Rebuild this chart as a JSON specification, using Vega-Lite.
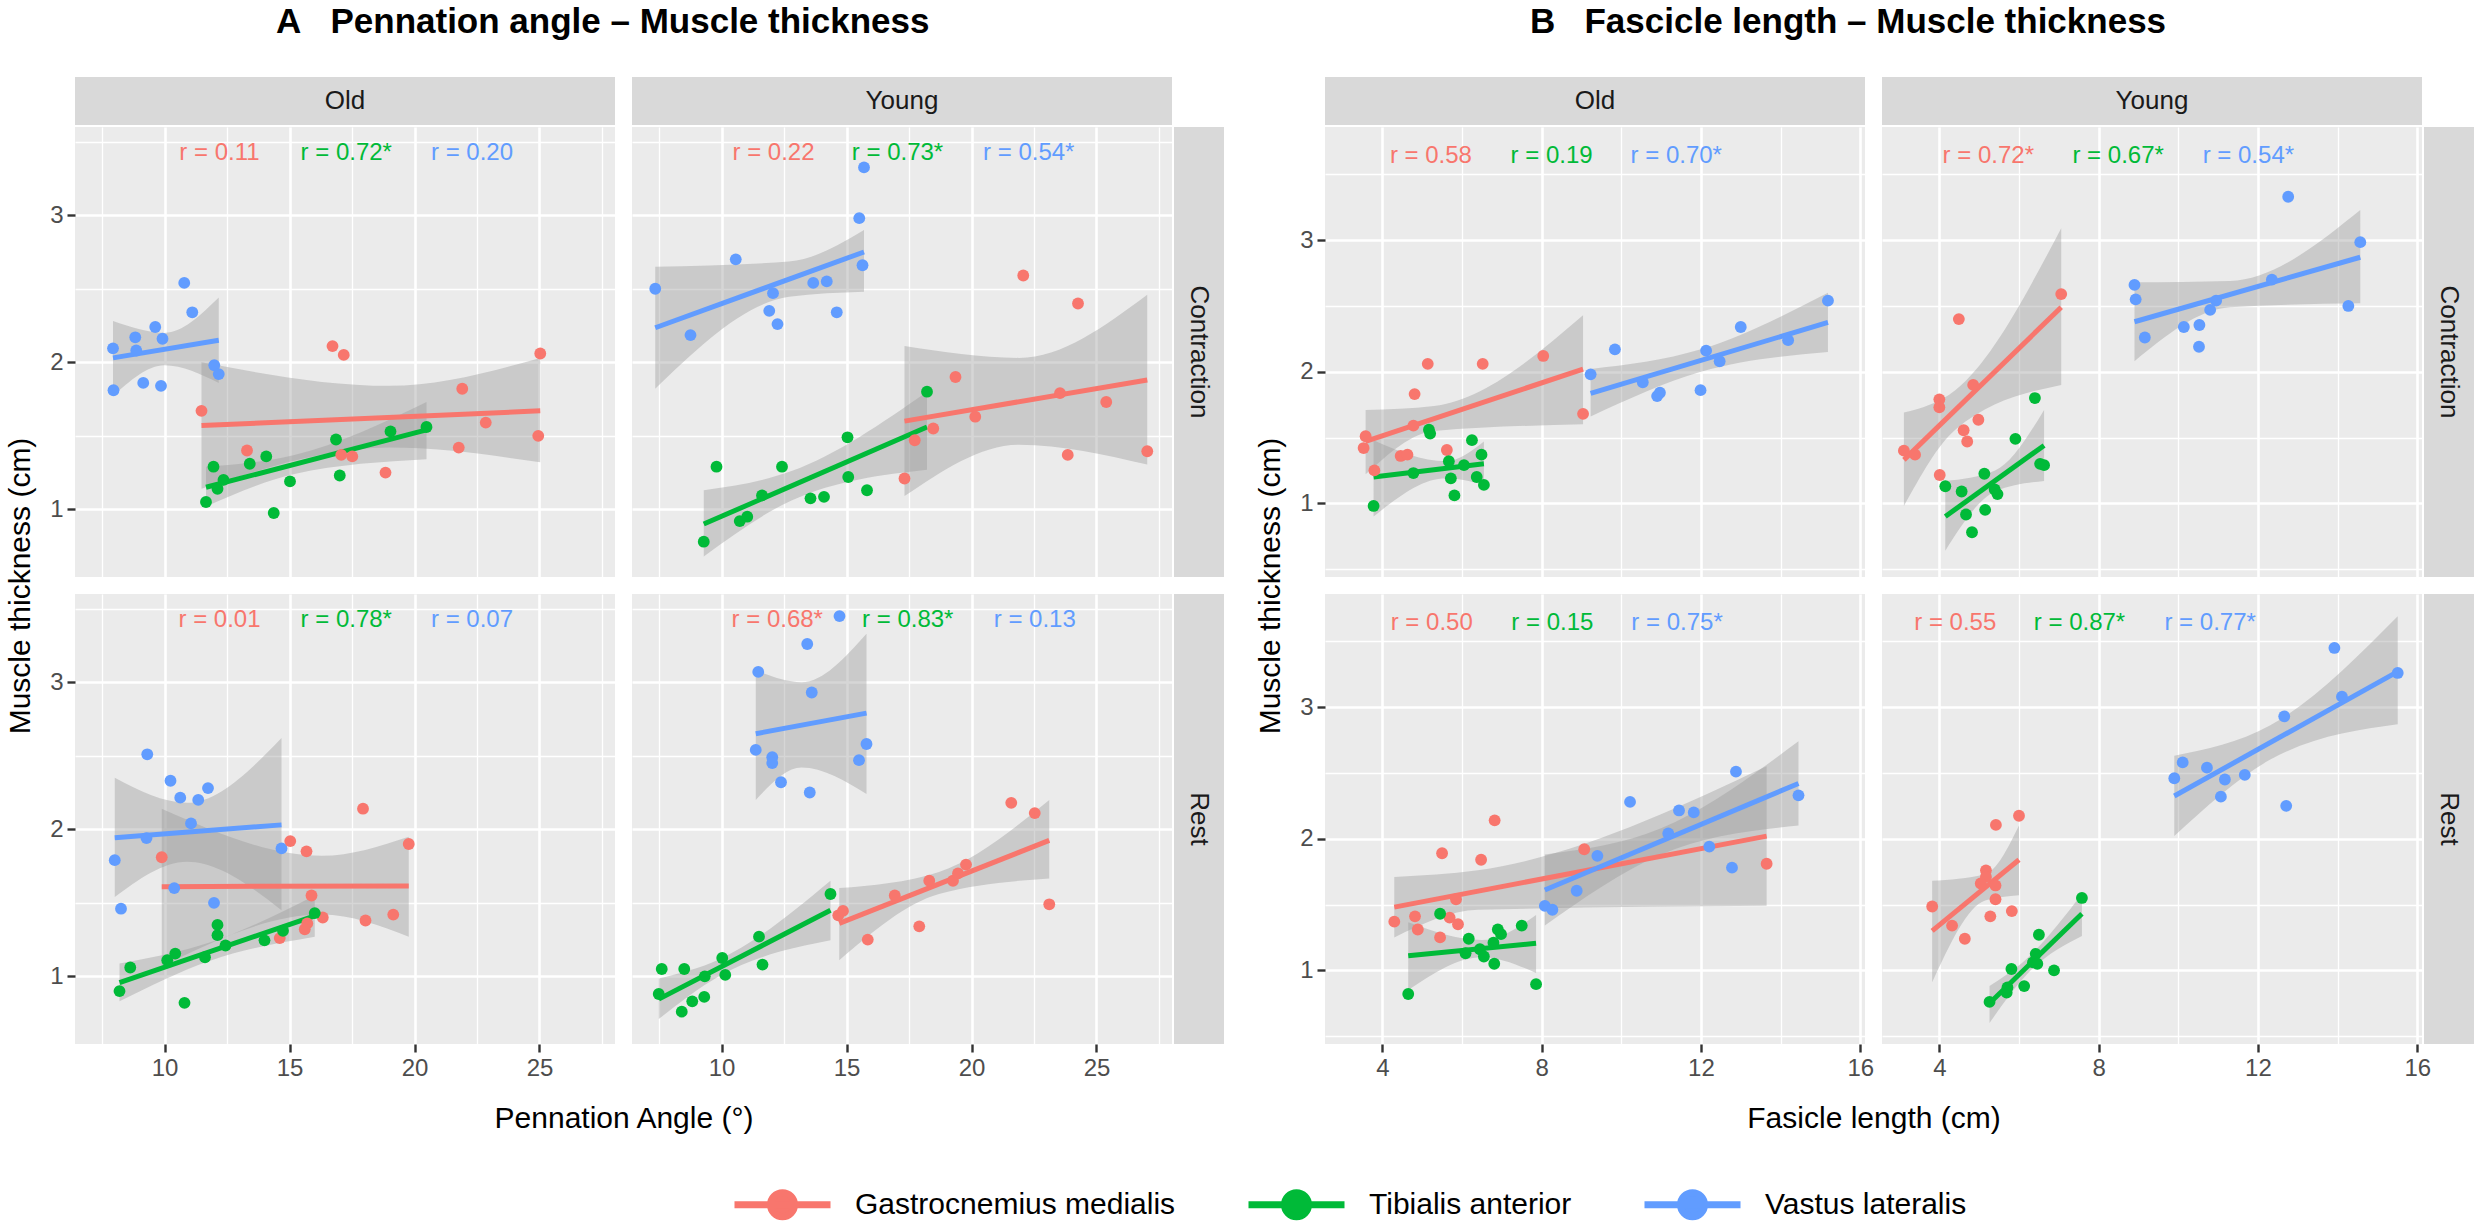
{
"$schema":"https://vega.github.io/schema/vega-lite/v6.json",
"background":"#FFFFFF",
"padding":{"left":5,"top":5,"right":5,"bottom":0},
"config":{"view":{"stroke":null},"font":"Liberation Sans",
"axis":{"domain":false,"grid":true,"gridColor":"#FFFFFF","tickSize":8,"tickWidth":2.4,"tickColor":"#333333","labelFontSize":24,"labelColor":"#4D4D4D","labelPadding":4,"titleFontSize":30,"titleFontWeight":"normal","titleColor":"#000000","titlePadding":14},
"title":{"font":"Liberation Sans"}},
"datasets":{"d":[
{"c":"AOC","k":"p","m":"G","x":11.48,"y":1.67},{"c":"AOC","k":"p","m":"G","x":13.3,"y":1.4},{"c":"AOC","k":"p","m":"G","x":16.72,"y":2.11},{"c":"AOC","k":"p","m":"G","x":17.17,"y":2.05},{"c":"AOC","k":"p","m":"G","x":17.07,"y":1.37},{"c":"AOC","k":"p","m":"G","x":17.51,"y":1.36},{"c":"AOC","k":"p","m":"G","x":18.84,"y":1.25},{"c":"AOC","k":"p","m":"G","x":21.91,"y":1.82},{"c":"AOC","k":"p","m":"G","x":22.85,"y":1.59},{"c":"AOC","k":"p","m":"G","x":21.77,"y":1.42},{"c":"AOC","k":"p","m":"G","x":25.03,"y":2.06},{"c":"AOC","k":"p","m":"G","x":24.95,"y":1.5},
{"c":"AOC","k":"p","m":"T","x":11.66,"y":1.05},{"c":"AOC","k":"p","m":"T","x":11.96,"y":1.29},{"c":"AOC","k":"p","m":"T","x":12.12,"y":1.14},{"c":"AOC","k":"p","m":"T","x":12.36,"y":1.2},{"c":"AOC","k":"p","m":"T","x":13.41,"y":1.31},{"c":"AOC","k":"p","m":"T","x":14.07,"y":1.36},{"c":"AOC","k":"p","m":"T","x":14.37,"y":0.975},{"c":"AOC","k":"p","m":"T","x":15.02,"y":1.19},{"c":"AOC","k":"p","m":"T","x":16.86,"y":1.475},{"c":"AOC","k":"p","m":"T","x":17.01,"y":1.23},{"c":"AOC","k":"p","m":"T","x":19.04,"y":1.53},{"c":"AOC","k":"p","m":"T","x":20.48,"y":1.56},
{"c":"AOC","k":"p","m":"V","x":7.94,"y":2.095},{"c":"AOC","k":"p","m":"V","x":8.83,"y":2.17},{"c":"AOC","k":"p","m":"V","x":8.87,"y":2.08},{"c":"AOC","k":"p","m":"V","x":9.63,"y":2.24},{"c":"AOC","k":"p","m":"V","x":9.92,"y":2.16},{"c":"AOC","k":"p","m":"V","x":10.79,"y":2.54},{"c":"AOC","k":"p","m":"V","x":11.11,"y":2.34},{"c":"AOC","k":"p","m":"V","x":11.99,"y":1.98},{"c":"AOC","k":"p","m":"V","x":12.17,"y":1.92},{"c":"AOC","k":"p","m":"V","x":7.96,"y":1.81},{"c":"AOC","k":"p","m":"V","x":9.15,"y":1.86},{"c":"AOC","k":"p","m":"V","x":9.86,"y":1.84},
{"c":"AOC","k":"l","m":"G","x":11.48,"y":1.57},{"c":"AOC","k":"l","m":"G","x":25.03,"y":1.67},{"c":"AOC","k":"l","m":"T","x":11.66,"y":1.15},{"c":"AOC","k":"l","m":"T","x":20.48,"y":1.54},{"c":"AOC","k":"l","m":"V","x":7.94,"y":2.03},{"c":"AOC","k":"l","m":"V","x":12.17,"y":2.15},
{"c":"AOC","k":"b","m":"V","x":7.94,"y":1.77,"y2":2.28},{"c":"AOC","k":"b","m":"V","x":10.0,"y":1.98,"y2":2.2},{"c":"AOC","k":"b","m":"V","x":12.17,"y":1.86,"y2":2.44},
{"c":"AOC","k":"b","m":"G","x":11.48,"y":1.14,"y2":2.0},{"c":"AOC","k":"b","m":"G","x":19.0,"y":1.42,"y2":1.84},{"c":"AOC","k":"b","m":"G","x":25.03,"y":1.32,"y2":2.03},
{"c":"AOC","k":"b","m":"T","x":11.66,"y":1.02,"y2":1.29},{"c":"AOC","k":"b","m":"T","x":15.2,"y":1.24,"y2":1.37},{"c":"AOC","k":"b","m":"T","x":20.48,"y":1.34,"y2":1.73},
{"c":"AOC","k":"t","m":"G","x":12.2,"y":3.42,"t":"r = 0.11"},{"c":"AOC","k":"t","m":"T","x":17.27,"y":3.42,"t":"r = 0.72*"},{"c":"AOC","k":"t","m":"V","x":22.3,"y":3.42,"t":"r = 0.20"},

{"c":"AYC","k":"p","m":"G","x":17.32,"y":1.21},{"c":"AYC","k":"p","m":"G","x":17.73,"y":1.47},{"c":"AYC","k":"p","m":"G","x":18.47,"y":1.55},{"c":"AYC","k":"p","m":"G","x":19.36,"y":1.9},{"c":"AYC","k":"p","m":"G","x":20.15,"y":1.63},{"c":"AYC","k":"p","m":"G","x":22.07,"y":2.59},{"c":"AYC","k":"p","m":"G","x":23.54,"y":1.79},{"c":"AYC","k":"p","m":"G","x":23.85,"y":1.37},{"c":"AYC","k":"p","m":"G","x":24.26,"y":2.4},{"c":"AYC","k":"p","m":"G","x":25.39,"y":1.73},{"c":"AYC","k":"p","m":"G","x":27.03,"y":1.395},
{"c":"AYC","k":"p","m":"T","x":9.29,"y":0.78},{"c":"AYC","k":"p","m":"T","x":9.8,"y":1.29},{"c":"AYC","k":"p","m":"T","x":10.73,"y":0.92},{"c":"AYC","k":"p","m":"T","x":11.03,"y":0.95},{"c":"AYC","k":"p","m":"T","x":11.62,"y":1.095},{"c":"AYC","k":"p","m":"T","x":12.42,"y":1.29},{"c":"AYC","k":"p","m":"T","x":13.56,"y":1.075},{"c":"AYC","k":"p","m":"T","x":14.1,"y":1.085},{"c":"AYC","k":"p","m":"T","x":15.04,"y":1.49},{"c":"AYC","k":"p","m":"T","x":15.07,"y":1.22},{"c":"AYC","k":"p","m":"T","x":15.82,"y":1.13},{"c":"AYC","k":"p","m":"T","x":18.22,"y":1.8},
{"c":"AYC","k":"p","m":"V","x":7.35,"y":2.5},{"c":"AYC","k":"p","m":"V","x":8.76,"y":2.185},{"c":"AYC","k":"p","m":"V","x":10.57,"y":2.7},{"c":"AYC","k":"p","m":"V","x":12.06,"y":2.47},{"c":"AYC","k":"p","m":"V","x":11.91,"y":2.35},{"c":"AYC","k":"p","m":"V","x":12.24,"y":2.26},{"c":"AYC","k":"p","m":"V","x":13.67,"y":2.54},{"c":"AYC","k":"p","m":"V","x":14.21,"y":2.55},{"c":"AYC","k":"p","m":"V","x":14.61,"y":2.34},{"c":"AYC","k":"p","m":"V","x":15.51,"y":2.98},{"c":"AYC","k":"p","m":"V","x":15.64,"y":2.66},{"c":"AYC","k":"p","m":"V","x":15.7,"y":3.325},
{"c":"AYC","k":"l","m":"V","x":7.35,"y":2.235},{"c":"AYC","k":"l","m":"V","x":15.7,"y":2.75},{"c":"AYC","k":"l","m":"T","x":9.29,"y":0.9},{"c":"AYC","k":"l","m":"T","x":18.22,"y":1.56},{"c":"AYC","k":"l","m":"G","x":17.32,"y":1.6},{"c":"AYC","k":"l","m":"G","x":27.03,"y":1.88},
{"c":"AYC","k":"b","m":"V","x":7.35,"y":1.82,"y2":2.65},{"c":"AYC","k":"b","m":"V","x":12.7,"y":2.445,"y2":2.685},{"c":"AYC","k":"b","m":"V","x":15.7,"y":2.48,"y2":2.9},
{"c":"AYC","k":"b","m":"T","x":9.29,"y":0.68,"y2":1.13},{"c":"AYC","k":"b","m":"T","x":12.8,"y":1.06,"y2":1.26},{"c":"AYC","k":"b","m":"T","x":18.22,"y":1.27,"y2":1.8},
{"c":"AYC","k":"b","m":"G","x":17.32,"y":1.09,"y2":2.11},{"c":"AYC","k":"b","m":"G","x":21.9,"y":1.44,"y2":2.03},{"c":"AYC","k":"b","m":"G","x":27.03,"y":1.305,"y2":2.46},
{"c":"AYC","k":"t","m":"G","x":12.08,"y":3.42,"t":"r = 0.22"},{"c":"AYC","k":"t","m":"T","x":17.04,"y":3.42,"t":"r = 0.73*"},{"c":"AYC","k":"t","m":"V","x":22.29,"y":3.42,"t":"r = 0.54*"},

{"c":"AOR","k":"p","m":"V","x":9.31,"y":2.51},{"c":"AOR","k":"p","m":"V","x":10.24,"y":2.33},{"c":"AOR","k":"p","m":"V","x":10.63,"y":2.215},{"c":"AOR","k":"p","m":"V","x":11.35,"y":2.2},{"c":"AOR","k":"p","m":"V","x":11.74,"y":2.28},{"c":"AOR","k":"p","m":"V","x":11.06,"y":2.04},{"c":"AOR","k":"p","m":"V","x":9.28,"y":1.94},{"c":"AOR","k":"p","m":"V","x":8.01,"y":1.79},{"c":"AOR","k":"p","m":"V","x":14.68,"y":1.87},{"c":"AOR","k":"p","m":"V","x":10.39,"y":1.6},{"c":"AOR","k":"p","m":"V","x":11.98,"y":1.5},{"c":"AOR","k":"p","m":"V","x":8.26,"y":1.46},
{"c":"AOR","k":"p","m":"G","x":9.89,"y":1.81},{"c":"AOR","k":"p","m":"G","x":15.03,"y":1.92},{"c":"AOR","k":"p","m":"G","x":15.68,"y":1.85},{"c":"AOR","k":"p","m":"G","x":17.94,"y":2.14},{"c":"AOR","k":"p","m":"G","x":19.77,"y":1.9},{"c":"AOR","k":"p","m":"G","x":15.88,"y":1.55},{"c":"AOR","k":"p","m":"G","x":16.33,"y":1.4},{"c":"AOR","k":"p","m":"G","x":15.71,"y":1.36},{"c":"AOR","k":"p","m":"G","x":15.61,"y":1.32},{"c":"AOR","k":"p","m":"G","x":14.61,"y":1.26},{"c":"AOR","k":"p","m":"G","x":18.04,"y":1.38},{"c":"AOR","k":"p","m":"G","x":19.15,"y":1.42},
{"c":"AOR","k":"p","m":"T","x":8.2,"y":0.9},{"c":"AOR","k":"p","m":"T","x":8.63,"y":1.06},{"c":"AOR","k":"p","m":"T","x":10.11,"y":1.11},{"c":"AOR","k":"p","m":"T","x":10.43,"y":1.155},{"c":"AOR","k":"p","m":"T","x":10.8,"y":0.82},{"c":"AOR","k":"p","m":"T","x":11.62,"y":1.13},{"c":"AOR","k":"p","m":"T","x":12.12,"y":1.35},{"c":"AOR","k":"p","m":"T","x":12.12,"y":1.28},{"c":"AOR","k":"p","m":"T","x":12.44,"y":1.21},{"c":"AOR","k":"p","m":"T","x":14.0,"y":1.245},{"c":"AOR","k":"p","m":"T","x":14.74,"y":1.31},{"c":"AOR","k":"p","m":"T","x":16.01,"y":1.43},
{"c":"AOR","k":"l","m":"V","x":8.01,"y":1.943},{"c":"AOR","k":"l","m":"V","x":14.68,"y":2.03},{"c":"AOR","k":"l","m":"G","x":9.89,"y":1.61},{"c":"AOR","k":"l","m":"G","x":19.77,"y":1.615},{"c":"AOR","k":"l","m":"T","x":8.2,"y":0.958},{"c":"AOR","k":"l","m":"T","x":16.01,"y":1.411},
{"c":"AOR","k":"b","m":"V","x":8.01,"y":1.54,"y2":2.35},{"c":"AOR","k":"b","m":"V","x":10.9,"y":1.78,"y2":2.18},{"c":"AOR","k":"b","m":"V","x":14.68,"y":1.45,"y2":2.62},
{"c":"AOR","k":"b","m":"G","x":9.89,"y":1.07,"y2":2.14},{"c":"AOR","k":"b","m":"G","x":16.3,"y":1.42,"y2":1.82},{"c":"AOR","k":"b","m":"G","x":19.77,"y":1.27,"y2":1.95},
{"c":"AOR","k":"b","m":"T","x":8.2,"y":0.83,"y2":1.087},{"c":"AOR","k":"b","m":"T","x":11.8,"y":1.105,"y2":1.23},{"c":"AOR","k":"b","m":"T","x":16.01,"y":1.27,"y2":1.55},
{"c":"AOR","k":"t","m":"G","x":12.2,"y":3.42,"t":"r = 0.01"},{"c":"AOR","k":"t","m":"T","x":17.27,"y":3.42,"t":"r = 0.78*"},{"c":"AOR","k":"t","m":"V","x":22.3,"y":3.42,"t":"r = 0.07"},

{"c":"AYR","k":"p","m":"V","x":14.72,"y":3.45},{"c":"AYR","k":"p","m":"V","x":13.43,"y":3.26},{"c":"AYR","k":"p","m":"V","x":11.47,"y":3.07},{"c":"AYR","k":"p","m":"V","x":13.61,"y":2.93},{"c":"AYR","k":"p","m":"V","x":11.37,"y":2.54},{"c":"AYR","k":"p","m":"V","x":12.03,"y":2.49},{"c":"AYR","k":"p","m":"V","x":12.03,"y":2.45},{"c":"AYR","k":"p","m":"V","x":12.38,"y":2.32},{"c":"AYR","k":"p","m":"V","x":13.53,"y":2.25},{"c":"AYR","k":"p","m":"V","x":15.5,"y":2.47},{"c":"AYR","k":"p","m":"V","x":15.8,"y":2.58},
{"c":"AYR","k":"p","m":"T","x":7.61,"y":1.05},{"c":"AYR","k":"p","m":"T","x":7.49,"y":0.88},{"c":"AYR","k":"p","m":"T","x":8.51,"y":1.05},{"c":"AYR","k":"p","m":"T","x":8.41,"y":0.76},{"c":"AYR","k":"p","m":"T","x":8.83,"y":0.83},{"c":"AYR","k":"p","m":"T","x":9.31,"y":0.86},{"c":"AYR","k":"p","m":"T","x":9.33,"y":1.0},{"c":"AYR","k":"p","m":"T","x":10.03,"y":1.125},{"c":"AYR","k":"p","m":"T","x":10.15,"y":1.01},{"c":"AYR","k":"p","m":"T","x":11.5,"y":1.27},{"c":"AYR","k":"p","m":"T","x":11.64,"y":1.08},{"c":"AYR","k":"p","m":"T","x":14.36,"y":1.56},
{"c":"AYR","k":"p","m":"G","x":14.67,"y":1.415},{"c":"AYR","k":"p","m":"G","x":14.86,"y":1.445},{"c":"AYR","k":"p","m":"G","x":15.85,"y":1.25},{"c":"AYR","k":"p","m":"G","x":16.93,"y":1.55},{"c":"AYR","k":"p","m":"G","x":17.91,"y":1.34},{"c":"AYR","k":"p","m":"G","x":18.31,"y":1.65},{"c":"AYR","k":"p","m":"G","x":19.26,"y":1.65},{"c":"AYR","k":"p","m":"G","x":19.46,"y":1.7},{"c":"AYR","k":"p","m":"G","x":19.78,"y":1.76},{"c":"AYR","k":"p","m":"G","x":21.59,"y":2.18},{"c":"AYR","k":"p","m":"G","x":22.53,"y":2.11},{"c":"AYR","k":"p","m":"G","x":23.11,"y":1.49},
{"c":"AYR","k":"l","m":"V","x":11.37,"y":2.65},{"c":"AYR","k":"l","m":"V","x":15.8,"y":2.79},{"c":"AYR","k":"l","m":"T","x":7.49,"y":0.845},{"c":"AYR","k":"l","m":"T","x":14.36,"y":1.45},{"c":"AYR","k":"l","m":"G","x":14.71,"y":1.36},{"c":"AYR","k":"l","m":"G","x":23.11,"y":1.925},
{"c":"AYR","k":"b","m":"V","x":11.37,"y":2.2,"y2":3.08},{"c":"AYR","k":"b","m":"V","x":13.2,"y":2.42,"y2":3.0},{"c":"AYR","k":"b","m":"V","x":15.8,"y":2.24,"y2":3.33},
{"c":"AYR","k":"b","m":"T","x":7.49,"y":0.71,"y2":0.985},{"c":"AYR","k":"b","m":"T","x":9.9,"y":1.0,"y2":1.115},{"c":"AYR","k":"b","m":"T","x":14.36,"y":1.245,"y2":1.65},
{"c":"AYR","k":"b","m":"G","x":14.71,"y":1.11,"y2":1.6},{"c":"AYR","k":"b","m":"G","x":18.7,"y":1.56,"y2":1.71},{"c":"AYR","k":"b","m":"G","x":23.11,"y":1.665,"y2":2.2},
{"c":"AYR","k":"t","m":"G","x":12.23,"y":3.42,"t":"r = 0.68*"},{"c":"AYR","k":"t","m":"T","x":17.45,"y":3.42,"t":"r = 0.83*"},{"c":"AYR","k":"t","m":"V","x":22.53,"y":3.42,"t":"r = 0.13"},

{"c":"BOC","k":"p","m":"G","x":3.58,"y":1.51},{"c":"BOC","k":"p","m":"G","x":3.53,"y":1.42},{"c":"BOC","k":"p","m":"G","x":3.8,"y":1.25},{"c":"BOC","k":"p","m":"G","x":4.46,"y":1.36},{"c":"BOC","k":"p","m":"G","x":4.63,"y":1.37},{"c":"BOC","k":"p","m":"G","x":4.78,"y":1.59},{"c":"BOC","k":"p","m":"G","x":4.81,"y":1.83},{"c":"BOC","k":"p","m":"G","x":5.14,"y":2.06},{"c":"BOC","k":"p","m":"G","x":5.62,"y":1.405},{"c":"BOC","k":"p","m":"G","x":6.52,"y":2.06},{"c":"BOC","k":"p","m":"G","x":8.04,"y":2.12},{"c":"BOC","k":"p","m":"G","x":9.04,"y":1.68},
{"c":"BOC","k":"p","m":"T","x":3.78,"y":0.98},{"c":"BOC","k":"p","m":"T","x":4.78,"y":1.23},{"c":"BOC","k":"p","m":"T","x":5.17,"y":1.56},{"c":"BOC","k":"p","m":"T","x":5.2,"y":1.53},{"c":"BOC","k":"p","m":"T","x":5.67,"y":1.32},{"c":"BOC","k":"p","m":"T","x":5.72,"y":1.19},{"c":"BOC","k":"p","m":"T","x":5.81,"y":1.06},{"c":"BOC","k":"p","m":"T","x":6.05,"y":1.29},{"c":"BOC","k":"p","m":"T","x":6.25,"y":1.48},{"c":"BOC","k":"p","m":"T","x":6.37,"y":1.2},{"c":"BOC","k":"p","m":"T","x":6.49,"y":1.37},{"c":"BOC","k":"p","m":"T","x":6.55,"y":1.14},
{"c":"BOC","k":"p","m":"V","x":9.23,"y":1.98},{"c":"BOC","k":"p","m":"V","x":9.84,"y":2.17},{"c":"BOC","k":"p","m":"V","x":10.54,"y":1.92},{"c":"BOC","k":"p","m":"V","x":10.9,"y":1.815},{"c":"BOC","k":"p","m":"V","x":10.97,"y":1.84},{"c":"BOC","k":"p","m":"V","x":11.99,"y":1.86},{"c":"BOC","k":"p","m":"V","x":12.13,"y":2.16},{"c":"BOC","k":"p","m":"V","x":12.47,"y":2.08},{"c":"BOC","k":"p","m":"V","x":13.0,"y":2.34},{"c":"BOC","k":"p","m":"V","x":14.19,"y":2.24},{"c":"BOC","k":"p","m":"V","x":15.19,"y":2.54},
{"c":"BOC","k":"l","m":"G","x":3.58,"y":1.47},{"c":"BOC","k":"l","m":"G","x":9.04,"y":2.02},{"c":"BOC","k":"l","m":"T","x":3.78,"y":1.2},{"c":"BOC","k":"l","m":"T","x":6.55,"y":1.3},{"c":"BOC","k":"l","m":"V","x":9.23,"y":1.835},{"c":"BOC","k":"l","m":"V","x":15.19,"y":2.375},
{"c":"BOC","k":"b","m":"G","x":3.58,"y":1.22,"y2":1.71},{"c":"BOC","k":"b","m":"G","x":5.3,"y":1.55,"y2":1.74},{"c":"BOC","k":"b","m":"G","x":9.04,"y":1.6,"y2":2.43},
{"c":"BOC","k":"b","m":"T","x":3.78,"y":0.9,"y2":1.48},{"c":"BOC","k":"b","m":"T","x":5.6,"y":1.19,"y2":1.32},{"c":"BOC","k":"b","m":"T","x":6.55,"y":1.14,"y2":1.47},
{"c":"BOC","k":"b","m":"V","x":9.23,"y":1.66,"y2":2.02},{"c":"BOC","k":"b","m":"V","x":12.0,"y":2.0,"y2":2.17},{"c":"BOC","k":"b","m":"V","x":15.19,"y":2.15,"y2":2.6},
{"c":"BOC","k":"t","m":"G","x":5.22,"y":3.64,"t":"r = 0.58"},{"c":"BOC","k":"t","m":"T","x":8.25,"y":3.64,"t":"r = 0.19"},{"c":"BOC","k":"t","m":"V","x":11.38,"y":3.64,"t":"r = 0.70*"},

{"c":"BYC","k":"p","m":"G","x":3.11,"y":1.4},{"c":"BYC","k":"p","m":"G","x":3.39,"y":1.37},{"c":"BYC","k":"p","m":"G","x":4.0,"y":1.79},{"c":"BYC","k":"p","m":"G","x":4.0,"y":1.73},{"c":"BYC","k":"p","m":"G","x":4.01,"y":1.215},{"c":"BYC","k":"p","m":"G","x":4.49,"y":2.4},{"c":"BYC","k":"p","m":"G","x":4.61,"y":1.555},{"c":"BYC","k":"p","m":"G","x":4.7,"y":1.47},{"c":"BYC","k":"p","m":"G","x":4.85,"y":1.9},{"c":"BYC","k":"p","m":"G","x":4.98,"y":1.635},{"c":"BYC","k":"p","m":"G","x":7.06,"y":2.59},
{"c":"BYC","k":"p","m":"T","x":4.15,"y":1.13},{"c":"BYC","k":"p","m":"T","x":4.56,"y":1.09},{"c":"BYC","k":"p","m":"T","x":4.67,"y":0.915},{"c":"BYC","k":"p","m":"T","x":4.82,"y":0.78},{"c":"BYC","k":"p","m":"T","x":5.13,"y":1.225},{"c":"BYC","k":"p","m":"T","x":5.15,"y":0.95},{"c":"BYC","k":"p","m":"T","x":5.39,"y":1.105},{"c":"BYC","k":"p","m":"T","x":5.46,"y":1.07},{"c":"BYC","k":"p","m":"T","x":5.91,"y":1.49},{"c":"BYC","k":"p","m":"T","x":6.4,"y":1.8},{"c":"BYC","k":"p","m":"T","x":6.53,"y":1.3},{"c":"BYC","k":"p","m":"T","x":6.63,"y":1.29},
{"c":"BYC","k":"p","m":"V","x":8.9,"y":2.66},{"c":"BYC","k":"p","m":"V","x":8.93,"y":2.55},{"c":"BYC","k":"p","m":"V","x":9.16,"y":2.26},{"c":"BYC","k":"p","m":"V","x":10.14,"y":2.34},{"c":"BYC","k":"p","m":"V","x":10.53,"y":2.355},{"c":"BYC","k":"p","m":"V","x":10.52,"y":2.19},{"c":"BYC","k":"p","m":"V","x":10.8,"y":2.47},{"c":"BYC","k":"p","m":"V","x":10.95,"y":2.54},{"c":"BYC","k":"p","m":"V","x":12.35,"y":2.7},{"c":"BYC","k":"p","m":"V","x":12.76,"y":3.33},{"c":"BYC","k":"p","m":"V","x":14.27,"y":2.5},{"c":"BYC","k":"p","m":"V","x":14.57,"y":2.985},
{"c":"BYC","k":"l","m":"G","x":3.11,"y":1.33},{"c":"BYC","k":"l","m":"G","x":7.06,"y":2.49},{"c":"BYC","k":"l","m":"T","x":4.15,"y":0.9},{"c":"BYC","k":"l","m":"T","x":6.63,"y":1.44},{"c":"BYC","k":"l","m":"V","x":8.9,"y":2.38},{"c":"BYC","k":"l","m":"V","x":14.57,"y":2.87},
{"c":"BYC","k":"b","m":"G","x":3.11,"y":0.98,"y2":1.69},{"c":"BYC","k":"b","m":"G","x":4.4,"y":1.56,"y2":1.86},{"c":"BYC","k":"b","m":"G","x":7.06,"y":1.9,"y2":3.09},
{"c":"BYC","k":"b","m":"T","x":4.15,"y":0.64,"y2":1.17},{"c":"BYC","k":"b","m":"T","x":5.4,"y":1.09,"y2":1.25},{"c":"BYC","k":"b","m":"T","x":6.63,"y":1.17,"y2":1.71},
{"c":"BYC","k":"b","m":"V","x":8.9,"y":2.08,"y2":2.68},{"c":"BYC","k":"b","m":"V","x":11.3,"y":2.49,"y2":2.69},{"c":"BYC","k":"b","m":"V","x":14.57,"y":2.52,"y2":3.23},
{"c":"BYC","k":"t","m":"G","x":5.23,"y":3.64,"t":"r = 0.72*"},{"c":"BYC","k":"t","m":"T","x":8.49,"y":3.64,"t":"r = 0.67*"},{"c":"BYC","k":"t","m":"V","x":11.76,"y":3.64,"t":"r = 0.54*"},

{"c":"BOR","k":"p","m":"G","x":4.3,"y":1.37},{"c":"BOR","k":"p","m":"G","x":4.82,"y":1.41},{"c":"BOR","k":"p","m":"G","x":4.89,"y":1.31},{"c":"BOR","k":"p","m":"G","x":5.45,"y":1.25},{"c":"BOR","k":"p","m":"G","x":5.5,"y":1.89},{"c":"BOR","k":"p","m":"G","x":5.69,"y":1.4},{"c":"BOR","k":"p","m":"G","x":5.85,"y":1.54},{"c":"BOR","k":"p","m":"G","x":5.9,"y":1.35},{"c":"BOR","k":"p","m":"G","x":6.48,"y":1.84},{"c":"BOR","k":"p","m":"G","x":6.82,"y":2.14},{"c":"BOR","k":"p","m":"G","x":9.07,"y":1.92},{"c":"BOR","k":"p","m":"G","x":13.65,"y":1.81},
{"c":"BOR","k":"p","m":"T","x":4.65,"y":0.82},{"c":"BOR","k":"p","m":"T","x":5.45,"y":1.43},{"c":"BOR","k":"p","m":"T","x":6.09,"y":1.13},{"c":"BOR","k":"p","m":"T","x":6.17,"y":1.24},{"c":"BOR","k":"p","m":"T","x":6.45,"y":1.16},{"c":"BOR","k":"p","m":"T","x":6.55,"y":1.105},{"c":"BOR","k":"p","m":"T","x":6.79,"y":1.21},{"c":"BOR","k":"p","m":"T","x":6.81,"y":1.05},{"c":"BOR","k":"p","m":"T","x":6.9,"y":1.31},{"c":"BOR","k":"p","m":"T","x":6.98,"y":1.275},{"c":"BOR","k":"p","m":"T","x":7.5,"y":1.34},{"c":"BOR","k":"p","m":"T","x":7.86,"y":0.895},
{"c":"BOR","k":"p","m":"V","x":8.08,"y":1.49},{"c":"BOR","k":"p","m":"V","x":8.27,"y":1.46},{"c":"BOR","k":"p","m":"V","x":8.88,"y":1.605},{"c":"BOR","k":"p","m":"V","x":9.4,"y":1.87},{"c":"BOR","k":"p","m":"V","x":10.22,"y":2.28},{"c":"BOR","k":"p","m":"V","x":11.18,"y":2.04},{"c":"BOR","k":"p","m":"V","x":11.45,"y":2.215},{"c":"BOR","k":"p","m":"V","x":11.82,"y":2.2},{"c":"BOR","k":"p","m":"V","x":12.21,"y":1.94},{"c":"BOR","k":"p","m":"V","x":12.78,"y":1.78},{"c":"BOR","k":"p","m":"V","x":12.88,"y":2.51},{"c":"BOR","k":"p","m":"V","x":14.45,"y":2.33},
{"c":"BOR","k":"l","m":"G","x":4.3,"y":1.48},{"c":"BOR","k":"l","m":"G","x":13.65,"y":2.02},{"c":"BOR","k":"l","m":"T","x":4.65,"y":1.11},{"c":"BOR","k":"l","m":"T","x":7.86,"y":1.205},{"c":"BOR","k":"l","m":"V","x":8.08,"y":1.61},{"c":"BOR","k":"l","m":"V","x":14.45,"y":2.42},
{"c":"BOR","k":"b","m":"G","x":4.3,"y":1.25,"y2":1.71},{"c":"BOR","k":"b","m":"G","x":6.4,"y":1.46,"y2":1.76},{"c":"BOR","k":"b","m":"G","x":13.65,"y":1.49,"y2":2.55},
{"c":"BOR","k":"b","m":"T","x":4.65,"y":0.85,"y2":1.365},{"c":"BOR","k":"b","m":"T","x":6.5,"y":1.1,"y2":1.23},{"c":"BOR","k":"b","m":"T","x":7.86,"y":0.98,"y2":1.42},
{"c":"BOR","k":"b","m":"V","x":8.08,"y":1.34,"y2":1.88},{"c":"BOR","k":"b","m":"V","x":11.0,"y":1.88,"y2":2.08},{"c":"BOR","k":"b","m":"V","x":14.45,"y":2.1,"y2":2.74},
{"c":"BOR","k":"t","m":"G","x":5.24,"y":3.64,"t":"r = 0.50"},{"c":"BOR","k":"t","m":"T","x":8.27,"y":3.64,"t":"r = 0.15"},{"c":"BOR","k":"t","m":"V","x":11.4,"y":3.64,"t":"r = 0.75*"},

{"c":"BYR","k":"p","m":"G","x":3.82,"y":1.485},{"c":"BYR","k":"p","m":"G","x":4.32,"y":1.34},{"c":"BYR","k":"p","m":"G","x":4.64,"y":1.24},{"c":"BYR","k":"p","m":"G","x":5.17,"y":1.76},{"c":"BYR","k":"p","m":"G","x":5.17,"y":1.71},{"c":"BYR","k":"p","m":"G","x":5.04,"y":1.66},{"c":"BYR","k":"p","m":"G","x":5.41,"y":1.645},{"c":"BYR","k":"p","m":"G","x":5.42,"y":2.105},{"c":"BYR","k":"p","m":"G","x":5.41,"y":1.54},{"c":"BYR","k":"p","m":"G","x":5.28,"y":1.41},{"c":"BYR","k":"p","m":"G","x":5.82,"y":1.45},{"c":"BYR","k":"p","m":"G","x":6.0,"y":2.175},
{"c":"BYR","k":"p","m":"T","x":5.26,"y":0.76},{"c":"BYR","k":"p","m":"T","x":5.69,"y":0.83},{"c":"BYR","k":"p","m":"T","x":5.71,"y":0.87},{"c":"BYR","k":"p","m":"T","x":5.81,"y":1.01},{"c":"BYR","k":"p","m":"T","x":6.13,"y":0.88},{"c":"BYR","k":"p","m":"T","x":6.35,"y":1.06},{"c":"BYR","k":"p","m":"T","x":6.42,"y":1.125},{"c":"BYR","k":"p","m":"T","x":6.46,"y":1.05},{"c":"BYR","k":"p","m":"T","x":6.5,"y":1.27},{"c":"BYR","k":"p","m":"T","x":6.88,"y":1.0},{"c":"BYR","k":"p","m":"T","x":7.58,"y":1.55},
{"c":"BYR","k":"p","m":"V","x":9.9,"y":2.46},{"c":"BYR","k":"p","m":"V","x":10.11,"y":2.58},{"c":"BYR","k":"p","m":"V","x":10.72,"y":2.54},{"c":"BYR","k":"p","m":"V","x":11.17,"y":2.45},{"c":"BYR","k":"p","m":"V","x":11.07,"y":2.32},{"c":"BYR","k":"p","m":"V","x":11.67,"y":2.485},{"c":"BYR","k":"p","m":"V","x":12.66,"y":2.93},{"c":"BYR","k":"p","m":"V","x":12.71,"y":2.25},{"c":"BYR","k":"p","m":"V","x":13.92,"y":3.45},{"c":"BYR","k":"p","m":"V","x":14.11,"y":3.08},{"c":"BYR","k":"p","m":"V","x":15.51,"y":3.26},
{"c":"BYR","k":"l","m":"G","x":3.82,"y":1.3},{"c":"BYR","k":"l","m":"G","x":6.0,"y":1.84},{"c":"BYR","k":"l","m":"T","x":5.26,"y":0.75},{"c":"BYR","k":"l","m":"T","x":7.58,"y":1.43},{"c":"BYR","k":"l","m":"V","x":9.9,"y":2.325},{"c":"BYR","k":"l","m":"V","x":15.51,"y":3.27},
{"c":"BYR","k":"b","m":"G","x":3.82,"y":0.91,"y2":1.68},{"c":"BYR","k":"b","m":"G","x":5.15,"y":1.53,"y2":1.73},{"c":"BYR","k":"b","m":"G","x":6.0,"y":1.57,"y2":2.1},
{"c":"BYR","k":"b","m":"T","x":5.26,"y":0.6,"y2":0.88},{"c":"BYR","k":"b","m":"T","x":6.2,"y":0.97,"y2":1.09},{"c":"BYR","k":"b","m":"T","x":7.58,"y":1.26,"y2":1.58},
{"c":"BYR","k":"b","m":"V","x":9.9,"y":2.02,"y2":2.63},{"c":"BYR","k":"b","m":"V","x":12.3,"y":2.6,"y2":2.86},{"c":"BYR","k":"b","m":"V","x":15.51,"y":2.87,"y2":3.69},
{"c":"BYR","k":"t","m":"G","x":4.4,"y":3.64,"t":"r = 0.55"},{"c":"BYR","k":"t","m":"T","x":7.52,"y":3.64,"t":"r = 0.87*"},{"c":"BYR","k":"t","m":"V","x":10.8,"y":3.64,"t":"r = 0.77*"}
]},
"columns":9,
"spacing":2,
"bounds":"flush",
"align":"each",
"concat":[
{"width":540,"height":48,"view":{"fill":"#D9D9D9"},"title":{"text":"A\u00a0\u00a0\u00a0Pennation angle – Muscle thickness","anchor":"start","dx":201,"fontSize":35,"fontWeight":"bold","color":"#000000","baseline":"alphabetic","offset":9},"data":{"values":[{"t":"Old"}]},"mark":{"type":"text","fontSize":26,"color":"#1A1A1A"},"encoding":{"text":{"field":"t"}}},
{"width":13,"height":13,"data":{"values":[]},"mark":"point"},
{"width":540,"height":48,"view":{"fill":"#D9D9D9"},"data":{"values":[{"t":"Young"}]},"mark":{"type":"text","fontSize":26,"color":"#1A1A1A"},"encoding":{"text":{"field":"t"}}},
{"width":13,"height":13,"data":{"values":[]},"mark":"point"},
{"width":97,"height":13,"data":{"values":[]},"mark":"point"},
{"width":540,"height":48,"view":{"fill":"#D9D9D9"},"title":{"text":"B\u00a0\u00a0\u00a0Fascicle length – Muscle thickness","anchor":"start","dx":205,"fontSize":35,"fontWeight":"bold","color":"#000000","baseline":"alphabetic","offset":9},"data":{"values":[{"t":"Old"}]},"mark":{"type":"text","fontSize":26,"color":"#1A1A1A"},"encoding":{"text":{"field":"t"}}},
{"width":13,"height":13,"data":{"values":[]},"mark":"point"},
{"width":540,"height":48,"view":{"fill":"#D9D9D9"},"data":{"values":[{"t":"Young"}]},"mark":{"type":"text","fontSize":26,"color":"#1A1A1A"},"encoding":{"text":{"field":"t"}}},
{"width":13,"height":13,"data":{"values":[]},"mark":"point"},

{"width":540,"height":450,"view":{"fill":"#EBEBEB"},"data":{"name":"d"},"transform":[{"filter":"datum.c==='AOC'"}],
"encoding":{"x":{"field":"x","type":"quantitative","scale":{"domain":[6.42,28.02],"nice":false,"zero":false},"axis":{"values":[7.5,10,12.5,15,17.5,20,22.5,25,27.5],"labels":false,"ticks":false,"title":null,"gridWidth":{"condition":{"test":"datum.value%5===0","value":2.6},"value":1.3}}},
"y":{"field":"y","type":"quantitative","stack":null,"scale":{"domain":[0.54,3.6],"nice":false,"zero":false},"axis":{"values":[1,1.5,2,2.5,3,3.5],"labelExpr":"datum.value%1===0?format(datum.value,'d'):''","tickOpacity":{"condition":{"test":"datum.value%1===0","value":1},"value":0},"gridWidth":{"condition":{"test":"datum.value%1===0","value":2.6},"value":1.3},"title":null}}},
"layer":[
{"transform":[{"filter":"datum.k==='b'"}],"mark":{"type":"area","color":"#999999","opacity":0.4,"interpolate":"monotone"},"encoding":{"y2":{"field":"y2"},"detail":{"field":"m"}}},
{"transform":[{"filter":"datum.k==='l'"}],"mark":{"type":"line","strokeWidth":5},"encoding":{"color":{"field":"m","type":"nominal","scale":{"domain":["G","T","V"],"range":["#F8766D","#00BA38","#619CFF"]}}}},
{"transform":[{"filter":"datum.k==='p'"}],"mark":{"type":"circle","size":140,"opacity":1},"encoding":{"color":{"field":"m","type":"nominal","scale":{"domain":["G","T","V"],"range":["#F8766D","#00BA38","#619CFF"]},"legend":{"title":null,"orient":"none","legendX":689,"legendY":1109,"direction":"horizontal","labelExpr":"datum.label==='G'?'Gastrocnemius medialis':datum.label==='T'?'Tibialis anterior':'Vastus lateralis'","labelFontSize":30,"labelLimit":0,"labelColor":"#000000","symbolType":"M-3.2,0L3.2,0M0.8,0A0.8,0.8,0,1,1,-0.8,0A0.8,0.8,0,1,1,0.8,0","symbolSize":900,"symbolStrokeWidth":7,"labelOffset":54,"columnPadding":58,"encode":{"symbols":{"update":{"fill":{"scale":"color","field":"value"},"stroke":{"scale":"color","field":"value"},"opacity":{"value":1}}}}}}}},
{"transform":[{"filter":"datum.k==='t'"}],"mark":{"type":"text","fontSize":24},"encoding":{"text":{"field":"t"},"color":{"field":"m","type":"nominal","scale":{"domain":["G","T","V"],"range":["#F8766D","#00BA38","#619CFF"]}}}}
]},
{"width":13,"height":13,"data":{"values":[]},"mark":"point"},
{"width":540,"height":450,"view":{"fill":"#EBEBEB"},"data":{"name":"d"},"transform":[{"filter":"datum.c==='AYC'"}],
"encoding":{"x":{"field":"x","type":"quantitative","scale":{"domain":[6.42,28.02],"nice":false,"zero":false},"axis":{"values":[7.5,10,12.5,15,17.5,20,22.5,25,27.5],"labels":false,"ticks":false,"title":null,"gridWidth":{"condition":{"test":"datum.value%5===0","value":2.6},"value":1.3}}},
"y":{"field":"y","type":"quantitative","stack":null,"scale":{"domain":[0.54,3.6],"nice":false,"zero":false},"axis":{"values":[1,1.5,2,2.5,3,3.5],"labels":false,"ticks":false,"title":null,"gridWidth":{"condition":{"test":"datum.value%1===0","value":2.6},"value":1.3}}}},
"layer":[
{"transform":[{"filter":"datum.k==='b'"}],"mark":{"type":"area","color":"#999999","opacity":0.4,"interpolate":"monotone"},"encoding":{"y2":{"field":"y2"},"detail":{"field":"m"}}},
{"transform":[{"filter":"datum.k==='l'"}],"mark":{"type":"line","strokeWidth":5},"encoding":{"color":{"field":"m","type":"nominal","scale":{"domain":["G","T","V"],"range":["#F8766D","#00BA38","#619CFF"]}}}},
{"transform":[{"filter":"datum.k==='p'"}],"mark":{"type":"circle","size":140,"opacity":1},"encoding":{"color":{"field":"m","type":"nominal","scale":{"domain":["G","T","V"],"range":["#F8766D","#00BA38","#619CFF"]}}}},
{"transform":[{"filter":"datum.k==='t'"}],"mark":{"type":"text","fontSize":24},"encoding":{"text":{"field":"t"},"color":{"field":"m","type":"nominal","scale":{"domain":["G","T","V"],"range":["#F8766D","#00BA38","#619CFF"]}}}}
]},
{"width":50,"height":450,"view":{"fill":"#D9D9D9"},"data":{"values":[{"t":"Contraction"}]},"mark":{"type":"text","fontSize":26,"angle":90,"color":"#1A1A1A"},"encoding":{"text":{"field":"t"}}},
{"width":97,"height":13,"data":{"values":[]},"mark":"point"},
{"width":540,"height":450,"view":{"fill":"#EBEBEB"},"data":{"name":"d"},"transform":[{"filter":"datum.c==='BOC'"}],
"encoding":{"x":{"field":"x","type":"quantitative","scale":{"domain":[2.56,16.12],"nice":false,"zero":false},"axis":{"values":[4,6,8,10,12,14,16],"labels":false,"ticks":false,"title":null,"gridWidth":{"condition":{"test":"datum.value%4===0","value":2.6},"value":1.3}}},
"y":{"field":"y","type":"quantitative","stack":null,"scale":{"domain":[0.44,3.86],"nice":false,"zero":false},"axis":{"values":[0.5,1,1.5,2,2.5,3,3.5],"labelExpr":"datum.value%1===0?format(datum.value,'d'):''","tickOpacity":{"condition":{"test":"datum.value%1===0","value":1},"value":0},"gridWidth":{"condition":{"test":"datum.value%1===0","value":2.6},"value":1.3},"title":null}}},
"layer":[
{"transform":[{"filter":"datum.k==='b'"}],"mark":{"type":"area","color":"#999999","opacity":0.4,"interpolate":"monotone"},"encoding":{"y2":{"field":"y2"},"detail":{"field":"m"}}},
{"transform":[{"filter":"datum.k==='l'"}],"mark":{"type":"line","strokeWidth":5},"encoding":{"color":{"field":"m","type":"nominal","scale":{"domain":["G","T","V"],"range":["#F8766D","#00BA38","#619CFF"]}}}},
{"transform":[{"filter":"datum.k==='p'"}],"mark":{"type":"circle","size":140,"opacity":1},"encoding":{"color":{"field":"m","type":"nominal","scale":{"domain":["G","T","V"],"range":["#F8766D","#00BA38","#619CFF"]}}}},
{"transform":[{"filter":"datum.k==='t'"}],"mark":{"type":"text","fontSize":24},"encoding":{"text":{"field":"t"},"color":{"field":"m","type":"nominal","scale":{"domain":["G","T","V"],"range":["#F8766D","#00BA38","#619CFF"]}}}}
]},
{"width":13,"height":13,"data":{"values":[]},"mark":"point"},
{"width":540,"height":450,"view":{"fill":"#EBEBEB"},"data":{"name":"d"},"transform":[{"filter":"datum.c==='BYC'"}],
"encoding":{"x":{"field":"x","type":"quantitative","scale":{"domain":[2.56,16.12],"nice":false,"zero":false},"axis":{"values":[4,6,8,10,12,14,16],"labels":false,"ticks":false,"title":null,"gridWidth":{"condition":{"test":"datum.value%4===0","value":2.6},"value":1.3}}},
"y":{"field":"y","type":"quantitative","stack":null,"scale":{"domain":[0.44,3.86],"nice":false,"zero":false},"axis":{"values":[0.5,1,1.5,2,2.5,3,3.5],"labels":false,"ticks":false,"title":null,"gridWidth":{"condition":{"test":"datum.value%1===0","value":2.6},"value":1.3}}}},
"layer":[
{"transform":[{"filter":"datum.k==='b'"}],"mark":{"type":"area","color":"#999999","opacity":0.4,"interpolate":"monotone"},"encoding":{"y2":{"field":"y2"},"detail":{"field":"m"}}},
{"transform":[{"filter":"datum.k==='l'"}],"mark":{"type":"line","strokeWidth":5},"encoding":{"color":{"field":"m","type":"nominal","scale":{"domain":["G","T","V"],"range":["#F8766D","#00BA38","#619CFF"]}}}},
{"transform":[{"filter":"datum.k==='p'"}],"mark":{"type":"circle","size":140,"opacity":1},"encoding":{"color":{"field":"m","type":"nominal","scale":{"domain":["G","T","V"],"range":["#F8766D","#00BA38","#619CFF"]}}}},
{"transform":[{"filter":"datum.k==='t'"}],"mark":{"type":"text","fontSize":24},"encoding":{"text":{"field":"t"},"color":{"field":"m","type":"nominal","scale":{"domain":["G","T","V"],"range":["#F8766D","#00BA38","#619CFF"]}}}}
]},
{"width":50,"height":450,"view":{"fill":"#D9D9D9"},"data":{"values":[{"t":"Contraction"}]},"mark":{"type":"text","fontSize":26,"angle":90,"color":"#1A1A1A"},"encoding":{"text":{"field":"t"}}},

{"width":13,"height":13,"data":{"values":[]},"mark":"point"},
{"width":13,"height":13,"data":{"values":[]},"mark":"point"},
{"width":13,"height":13,"data":{"values":[]},"mark":"point"},
{"width":13,"height":13,"data":{"values":[]},"mark":"point"},
{"width":97,"height":13,"data":{"values":[]},"mark":"point"},
{"width":13,"height":13,"data":{"values":[]},"mark":"point"},
{"width":13,"height":13,"data":{"values":[]},"mark":"point"},
{"width":13,"height":13,"data":{"values":[]},"mark":"point"},
{"width":13,"height":13,"data":{"values":[]},"mark":"point"},

{"width":540,"height":450,"view":{"fill":"#EBEBEB"},"data":{"name":"d"},"transform":[{"filter":"datum.c==='AOR'"}],
"encoding":{"x":{"field":"x","type":"quantitative","scale":{"domain":[6.42,28.02],"nice":false,"zero":false},"axis":{"values":[7.5,10,12.5,15,17.5,20,22.5,25,27.5],"labelExpr":"datum.value%5===0?format(datum.value,'d'):''","tickOpacity":{"condition":{"test":"datum.value%5===0","value":1},"value":0},"gridWidth":{"condition":{"test":"datum.value%5===0","value":2.6},"value":1.3},"title":"Pennation Angle (°)","titleX":548.5,"titlePadding":23}},
"y":{"field":"y","type":"quantitative","stack":null,"scale":{"domain":[0.54,3.6],"nice":false,"zero":false},"axis":{"values":[1,1.5,2,2.5,3,3.5],"labelExpr":"datum.value%1===0?format(datum.value,'d'):''","tickOpacity":{"condition":{"test":"datum.value%1===0","value":1},"value":0},"gridWidth":{"condition":{"test":"datum.value%1===0","value":2.6},"value":1.3},"title":"Muscle thickness (cm)","titleY":-8.5}}},
"layer":[
{"transform":[{"filter":"datum.k==='b'"}],"mark":{"type":"area","color":"#999999","opacity":0.4,"interpolate":"monotone"},"encoding":{"y2":{"field":"y2"},"detail":{"field":"m"}}},
{"transform":[{"filter":"datum.k==='l'"}],"mark":{"type":"line","strokeWidth":5},"encoding":{"color":{"field":"m","type":"nominal","scale":{"domain":["G","T","V"],"range":["#F8766D","#00BA38","#619CFF"]}}}},
{"transform":[{"filter":"datum.k==='p'"}],"mark":{"type":"circle","size":140,"opacity":1},"encoding":{"color":{"field":"m","type":"nominal","scale":{"domain":["G","T","V"],"range":["#F8766D","#00BA38","#619CFF"]}}}},
{"transform":[{"filter":"datum.k==='t'"}],"mark":{"type":"text","fontSize":24},"encoding":{"text":{"field":"t"},"color":{"field":"m","type":"nominal","scale":{"domain":["G","T","V"],"range":["#F8766D","#00BA38","#619CFF"]}}}}
]},
{"width":13,"height":13,"data":{"values":[]},"mark":"point"},
{"width":540,"height":450,"view":{"fill":"#EBEBEB"},"data":{"name":"d"},"transform":[{"filter":"datum.c==='AYR'"}],
"encoding":{"x":{"field":"x","type":"quantitative","scale":{"domain":[6.42,28.02],"nice":false,"zero":false},"axis":{"values":[7.5,10,12.5,15,17.5,20,22.5,25,27.5],"labelExpr":"datum.value%5===0?format(datum.value,'d'):''","tickOpacity":{"condition":{"test":"datum.value%5===0","value":1},"value":0},"gridWidth":{"condition":{"test":"datum.value%5===0","value":2.6},"value":1.3},"title":null}},
"y":{"field":"y","type":"quantitative","stack":null,"scale":{"domain":[0.54,3.6],"nice":false,"zero":false},"axis":{"values":[1,1.5,2,2.5,3,3.5],"labels":false,"ticks":false,"title":null,"gridWidth":{"condition":{"test":"datum.value%1===0","value":2.6},"value":1.3}}}},
"layer":[
{"transform":[{"filter":"datum.k==='b'"}],"mark":{"type":"area","color":"#999999","opacity":0.4,"interpolate":"monotone"},"encoding":{"y2":{"field":"y2"},"detail":{"field":"m"}}},
{"transform":[{"filter":"datum.k==='l'"}],"mark":{"type":"line","strokeWidth":5},"encoding":{"color":{"field":"m","type":"nominal","scale":{"domain":["G","T","V"],"range":["#F8766D","#00BA38","#619CFF"]}}}},
{"transform":[{"filter":"datum.k==='p'"}],"mark":{"type":"circle","size":140,"opacity":1},"encoding":{"color":{"field":"m","type":"nominal","scale":{"domain":["G","T","V"],"range":["#F8766D","#00BA38","#619CFF"]}}}},
{"transform":[{"filter":"datum.k==='t'"}],"mark":{"type":"text","fontSize":24},"encoding":{"text":{"field":"t"},"color":{"field":"m","type":"nominal","scale":{"domain":["G","T","V"],"range":["#F8766D","#00BA38","#619CFF"]}}}}
]},
{"width":50,"height":450,"view":{"fill":"#D9D9D9"},"data":{"values":[{"t":"Rest"}]},"mark":{"type":"text","fontSize":26,"angle":90,"color":"#1A1A1A"},"encoding":{"text":{"field":"t"}}},
{"width":97,"height":13,"data":{"values":[]},"mark":"point"},
{"width":540,"height":450,"view":{"fill":"#EBEBEB"},"data":{"name":"d"},"transform":[{"filter":"datum.c==='BOR'"}],
"encoding":{"x":{"field":"x","type":"quantitative","scale":{"domain":[2.56,16.12],"nice":false,"zero":false},"axis":{"values":[4,6,8,10,12,14,16],"labelExpr":"datum.value%4===0?format(datum.value,'d'):''","tickOpacity":{"condition":{"test":"datum.value%4===0","value":1},"value":0},"gridWidth":{"condition":{"test":"datum.value%4===0","value":2.6},"value":1.3},"title":"Fasicle length (cm)","titleX":548.5,"titlePadding":23}},
"y":{"field":"y","type":"quantitative","stack":null,"scale":{"domain":[0.44,3.86],"nice":false,"zero":false},"axis":{"values":[0.5,1,1.5,2,2.5,3,3.5],"labelExpr":"datum.value%1===0?format(datum.value,'d'):''","tickOpacity":{"condition":{"test":"datum.value%1===0","value":1},"value":0},"gridWidth":{"condition":{"test":"datum.value%1===0","value":2.6},"value":1.3},"title":"Muscle thickness (cm)","titleY":-8.5}}},
"layer":[
{"transform":[{"filter":"datum.k==='b'"}],"mark":{"type":"area","color":"#999999","opacity":0.4,"interpolate":"monotone"},"encoding":{"y2":{"field":"y2"},"detail":{"field":"m"}}},
{"transform":[{"filter":"datum.k==='l'"}],"mark":{"type":"line","strokeWidth":5},"encoding":{"color":{"field":"m","type":"nominal","scale":{"domain":["G","T","V"],"range":["#F8766D","#00BA38","#619CFF"]}}}},
{"transform":[{"filter":"datum.k==='p'"}],"mark":{"type":"circle","size":140,"opacity":1},"encoding":{"color":{"field":"m","type":"nominal","scale":{"domain":["G","T","V"],"range":["#F8766D","#00BA38","#619CFF"]}}}},
{"transform":[{"filter":"datum.k==='t'"}],"mark":{"type":"text","fontSize":24},"encoding":{"text":{"field":"t"},"color":{"field":"m","type":"nominal","scale":{"domain":["G","T","V"],"range":["#F8766D","#00BA38","#619CFF"]}}}}
]},
{"width":13,"height":13,"data":{"values":[]},"mark":"point"},
{"width":540,"height":450,"view":{"fill":"#EBEBEB"},"data":{"name":"d"},"transform":[{"filter":"datum.c==='BYR'"}],
"encoding":{"x":{"field":"x","type":"quantitative","scale":{"domain":[2.56,16.12],"nice":false,"zero":false},"axis":{"values":[4,6,8,10,12,14,16],"labelExpr":"datum.value%4===0?format(datum.value,'d'):''","tickOpacity":{"condition":{"test":"datum.value%4===0","value":1},"value":0},"gridWidth":{"condition":{"test":"datum.value%4===0","value":2.6},"value":1.3},"title":null}},
"y":{"field":"y","type":"quantitative","stack":null,"scale":{"domain":[0.44,3.86],"nice":false,"zero":false},"axis":{"values":[0.5,1,1.5,2,2.5,3,3.5],"labels":false,"ticks":false,"title":null,"gridWidth":{"condition":{"test":"datum.value%1===0","value":2.6},"value":1.3}}}},
"layer":[
{"transform":[{"filter":"datum.k==='b'"}],"mark":{"type":"area","color":"#999999","opacity":0.4,"interpolate":"monotone"},"encoding":{"y2":{"field":"y2"},"detail":{"field":"m"}}},
{"transform":[{"filter":"datum.k==='l'"}],"mark":{"type":"line","strokeWidth":5},"encoding":{"color":{"field":"m","type":"nominal","scale":{"domain":["G","T","V"],"range":["#F8766D","#00BA38","#619CFF"]}}}},
{"transform":[{"filter":"datum.k==='p'"}],"mark":{"type":"circle","size":140,"opacity":1},"encoding":{"color":{"field":"m","type":"nominal","scale":{"domain":["G","T","V"],"range":["#F8766D","#00BA38","#619CFF"]}}}},
{"transform":[{"filter":"datum.k==='t'"}],"mark":{"type":"text","fontSize":24},"encoding":{"text":{"field":"t"},"color":{"field":"m","type":"nominal","scale":{"domain":["G","T","V"],"range":["#F8766D","#00BA38","#619CFF"]}}}}
]},
{"width":50,"height":450,"view":{"fill":"#D9D9D9"},"data":{"values":[{"t":"Rest"}]},"mark":{"type":"text","fontSize":26,"angle":90,"color":"#1A1A1A"},"encoding":{"text":{"field":"t"}}}
]
}
